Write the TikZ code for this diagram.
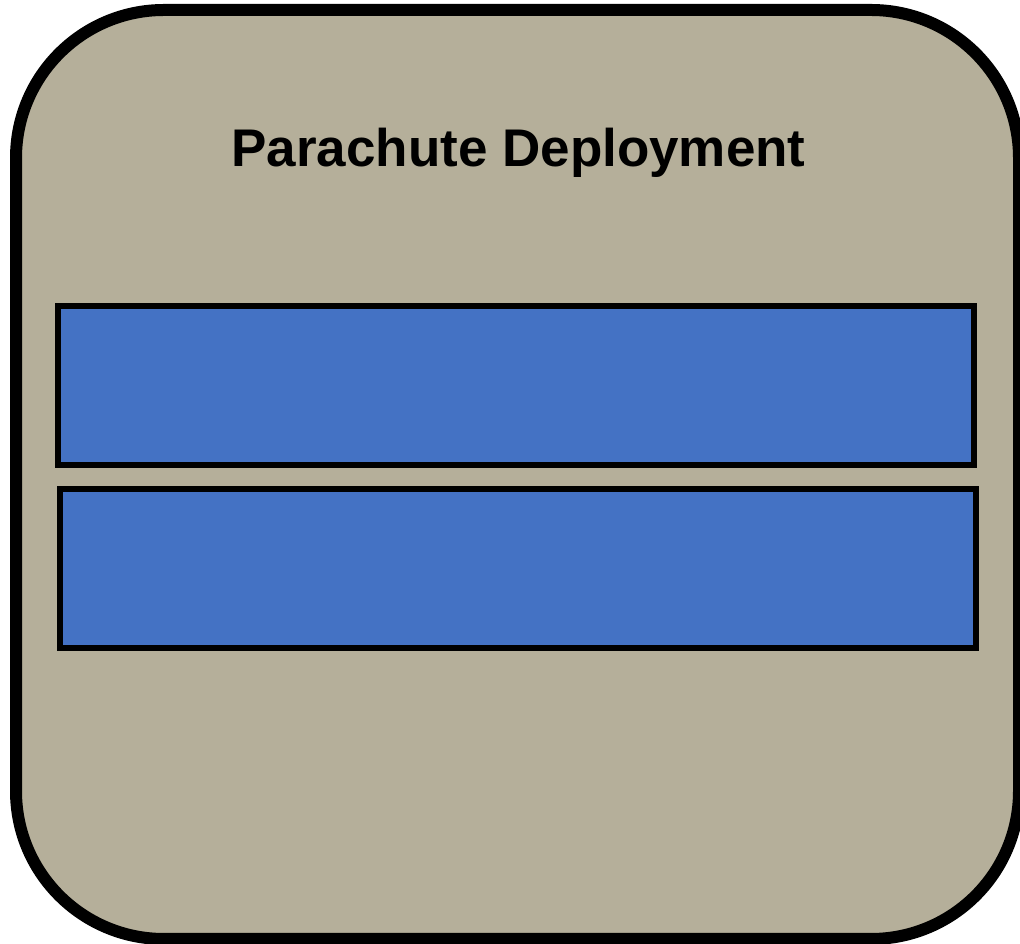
\documentclass[tikz,border=0pt]{standalone}
\usepackage{fontspec}
\setmainfont{Liberation Sans}
\definecolor{panel}{HTML}{B5AF9A}
\definecolor{barblue}{HTML}{4472C4}
\begin{document}
\begin{tikzpicture}[x=1pt,y=1pt,
  outerbox/.style={draw=black,line width=12pt,fill=panel,rounded corners=148pt},
  bar/.style={draw=black,line width=6pt,fill=barblue}]
\useasboundingbox (0,0) rectangle (1020,944);
\draw[outerbox] (16,5) rectangle (1019,934);
\node[font=\bfseries\fontsize{53}{62}\selectfont,anchor=base,inner sep=0pt] (title) at (518.5,777) {Parachute Deployment};
\draw[bar] (58,479) rectangle (974,638);
\draw[bar] (60,296) rectangle (976,455);
\end{tikzpicture}
\end{document}
